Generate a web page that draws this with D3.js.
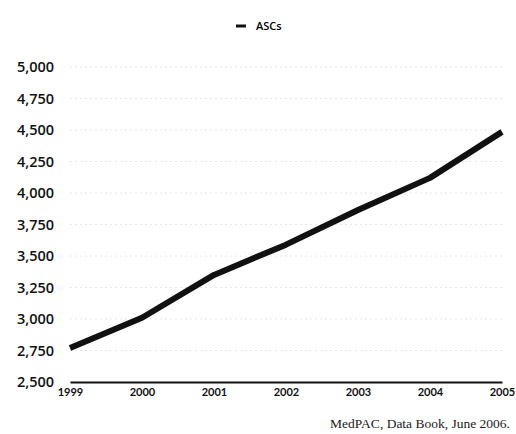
<!DOCTYPE html>
<html>
<head>
<meta charset="utf-8">
<script src="https://cdn.jsdelivr.net/npm/d3@7"></script>
<style>
  body { margin: 0; background: #fff; }
  svg { display: block; }
</style>
</head>
<body>
<svg id="chart" width="516" height="434"></svg>
<script>
const years = [1999, 2000, 2001, 2002, 2003, 2004, 2005];
const ascs = [2770, 3010, 3350, 3590, 3865, 4120, 4485];
const yTicks = [2500, 2750, 3000, 3250, 3500, 3750, 4000, 4250, 4500, 4750, 5000];
const seriesName = 'ASCs';
const source = 'MedPAC, Data Book, June 2006.';

const svg = d3.select('#chart');
const margin = {top: 67, right: 14, bottom: 52, left: 70};
const width = 516 - margin.left - margin.right,
      height = 434 - margin.top - margin.bottom;

const x = d3.scaleLinear().domain([1999, 2005]).range([0, width]);
const y = d3.scaleLinear().domain([2500, 5000]).range([height, 0]);

const g = svg.append('g')
  .attr('transform', 'translate(' + margin.left + ',' + margin.top + ')');

// faint dotted grid
g.selectAll('line.grid')
  .data(yTicks.slice(1))
  .enter().append('line')
  .attr('class', 'grid')
  .attr('x1', 0).attr('x2', width)
  .attr('y1', d => y(d)).attr('y2', d => y(d))
  .style('stroke', '#e6e6e6')
  .style('stroke-width', 1)
  .style('stroke-dasharray', '2,3');

// y axis labels
const yAxis = d3.axisLeft(y).tickValues(yTicks).tickSize(0).tickPadding(16)
  .tickFormat(d3.format(','));
g.append('g').call(yAxis)
  .call(a => a.select('.domain').remove())
  .selectAll('text')
  .style('font-family', '"Open Sans", Lato, sans-serif')
  .style('font-weight', 600)
  .style('font-size', '14.5px')
  .style('fill', '#111');

// x axis
const xAxis = d3.axisBottom(x).tickValues(years).tickSize(0).tickPadding(6)
  .tickFormat(d3.format('d'));
g.append('g')
  .attr('transform', 'translate(0,' + height + ')')
  .call(xAxis)
  .call(a => a.select('.domain')
    .style('stroke', '#111').style('stroke-width', 2))
  .selectAll('text')
  .style('font-family', 'Lato, "Open Sans", sans-serif')
  .style('font-weight', 'bold')
  .style('font-size', '11px')
  .style('fill', '#111');

// series line
const line = d3.line()
  .x((d, i) => x(years[i]))
  .y(d => y(d));

g.append('path')
  .datum(ascs)
  .attr('d', line)
  .style('fill', 'none')
  .style('stroke', '#111')
  .style('stroke-width', 6)
  .style('stroke-linejoin', 'round');

// legend
const legend = svg.append('g').attr('transform', 'translate(236,26)');
legend.append('line')
  .attr('x1', 0).attr('x2', 10).attr('y1', 0).attr('y2', 0)
  .style('stroke', '#111').style('stroke-width', 3);
legend.append('text')
  .attr('x', 20).attr('dy', '.35em')
  .style('font-family', '"Open Sans", Lato, sans-serif')
  .style('font-weight', 600)
  .style('font-size', '11px')
  .text(seriesName);

// source
svg.append('text')
  .attr('x', 510).attr('y', 428)
  .attr('text-anchor', 'end')
  .style('font-family', '"Liberation Serif", "DejaVu Serif", serif')
  .style('font-size', '13.5px')
  .style('fill', '#222')
  .text(source);
</script>
</body>
</html>
